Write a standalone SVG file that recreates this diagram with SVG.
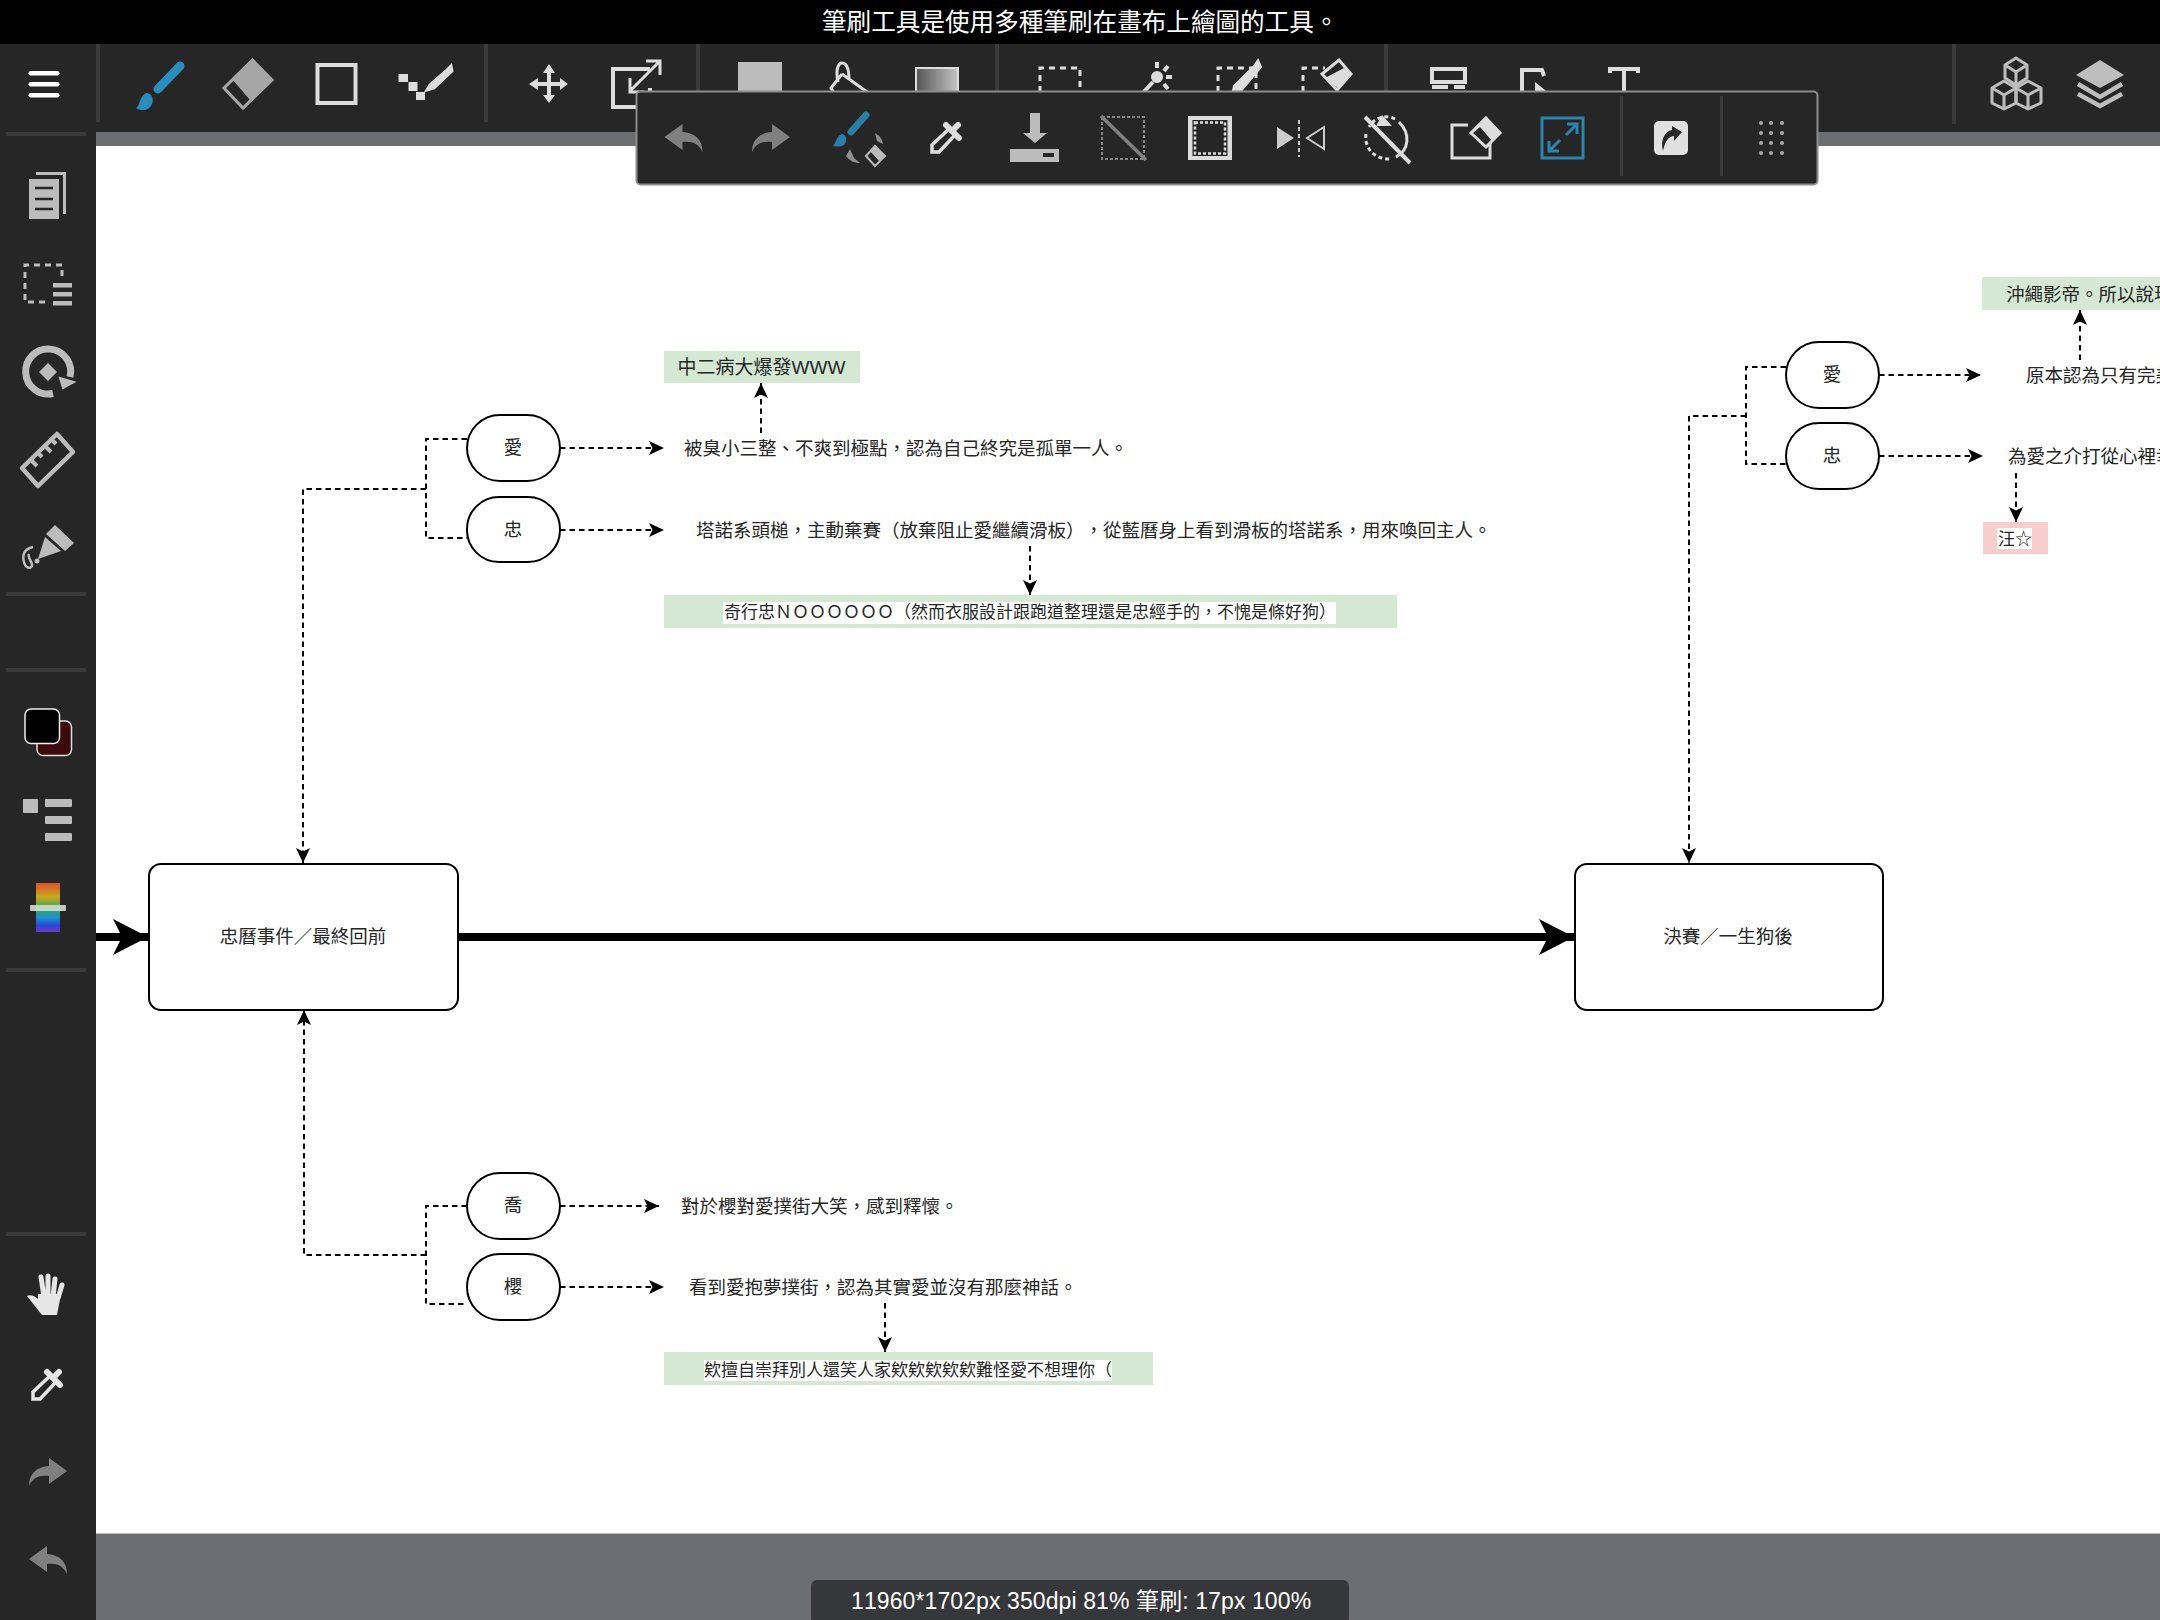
<svg xmlns="http://www.w3.org/2000/svg" width="2160" height="1620" viewBox="0 0 2160 1620" lang="zh-TW">
<style>
text{text-spacing-trim:space-all;font-kerning:none}
.t{font-family:"Liberation Sans","Noto Sans CJK TC",sans-serif;font-size:18.5px;fill:#262626}
.s{font-size:17px}
.m{text-anchor:middle}
.box{fill:#fff;stroke:#000;stroke-width:2}
.pill{fill:#fff;stroke:#000;stroke-width:2}
.green{fill:#d5e8d4}
.pink{fill:#f8cecc}
.bg{fill:#fff}
.c{fill:none;stroke:#000;stroke-width:2;stroke-dasharray:5.5 4}
.a{marker-end:url(#arr)}
.thick{fill:none;stroke:#000;stroke-width:8;marker-end:url(#big)}
.sep{fill:#3a3a3a}
.o{fill:none;stroke:#ddd;stroke-width:4}
.o3{fill:none;stroke:#ddd;stroke-width:3}
.g{fill:#bcbcbc}
.d{fill:#ddd}
.dash{fill:none;stroke:#ddd;stroke-width:3;stroke-dasharray:6 5}
.mute{fill:#808080}
.ui{font-family:"Noto Sans CJK TC",sans-serif;fill:#fff}
</style>
<defs>
<marker id="arr" markerUnits="userSpaceOnUse" markerWidth="16" markerHeight="15" refX="15" refY="7" orient="auto"><path d="M0 0L15 7L0 14L3.500 7Z" fill="#000"/></marker>
<marker id="big" markerUnits="userSpaceOnUse" markerWidth="36" markerHeight="37" refX="35" refY="18" orient="auto"><path d="M0 0L35 18L0 36L9 18Z" fill="#000"/></marker>
<linearGradient id="gr" x1="0" x2="1" y1="0" y2="0"><stop offset="0" stop-color="#555"/><stop offset="1" stop-color="#c4c4c4"/></linearGradient>
<linearGradient id="rb" x1="0" x2="0" y1="0" y2="1"><stop offset="0" stop-color="#dc4f2c"/><stop offset=".28" stop-color="#c9aa1c"/><stop offset=".5" stop-color="#3fa75a"/><stop offset=".72" stop-color="#1a8fd0"/><stop offset=".87" stop-color="#2a45d8"/><stop offset="1" stop-color="#6b3cc4"/></linearGradient>
<path id="undo" d="M0 13L18 0L18 8C30 9 38 15 38 28C34 19 27 17 18 18L18 26Z"/>
<path id="redo" d="M38 13L20 0L20 8C8 9 0 15 0 28C4 19 11 17 20 18L20 26Z"/>
<g id="drop"><path d="M1 32L1 25L19 8L25 14L8 32Z" fill="none" stroke-width="3.5" stroke="currentColor"/><path d="M15 5L28 18M22 10L27 5" fill="none" stroke-width="6" stroke="currentColor" stroke-linecap="round"/></g>
</defs>

<rect x="0" y="0" width="2160" height="1620" fill="#fff"/>

<g id="connectors">
<path class="thick" d="M458 937H1574"/>
<path class="thick" d="M96 937H148"/>
<path class="c a" d="M467 439H426V538H467M426 489H303V863"/>
<path class="c a" d="M560 448H664"/>
<path class="c a" d="M560 530H664"/>
<path class="c a" d="M761 433V383"/>
<path class="c a" d="M1030 546V595"/>
<path class="c a" d="M467 1206H426V1304H467M426 1255H304V1010"/>
<path class="c a" d="M560 1206H659"/>
<path class="c a" d="M560 1287H664"/>
<path class="c a" d="M885 1303V1352"/>
<path class="c a" d="M1786 367H1746V464H1786M1746 416H1689V863"/>
<path class="c a" d="M1879 375H1981"/>
<path class="c a" d="M1879 456H1983"/>
<path class="c a" d="M2080 360V310"/>
<path class="c a" d="M2016 473V522"/>
</g>

<g id="node-a"><rect class="box" x="149" y="864" width="309" height="146" rx="12"/><text class="t m" x="303" y="942.500">忠曆事件／最終回前</text></g>
<g id="node-b"><rect class="box" x="1575" y="864" width="308" height="146" rx="12"/><text class="t m" x="1728" y="942.500">決賽／一生狗後</text></g>

<g id="p-ai1"><rect class="pill" x="467" y="415" width="93" height="66" rx="33"/><text class="t m" x="513" y="453.500">愛</text></g>
<g id="p-zhong1"><rect class="pill" x="467" y="497" width="93" height="65" rx="32"/><text class="t m" x="513" y="535.500">忠</text></g>
<g id="p-qiao"><rect class="pill" x="467" y="1173" width="93" height="66" rx="33"/><text class="t m" x="513" y="1211.500">喬</text></g>
<g id="p-ying"><rect class="pill" x="467" y="1254" width="93" height="66" rx="33"/><text class="t m" x="513" y="1292.500">櫻</text></g>
<g id="p-ai2"><rect class="pill" x="1786" y="342" width="93" height="66" rx="33"/><text class="t m" x="1832" y="381">愛</text></g>
<g id="p-zhong2"><rect class="pill" x="1786" y="423" width="93" height="66" rx="33"/><text class="t m" x="1832" y="462">忠</text></g>

<g id="n1"><text class="t" x="684" y="454.500">被臭小三整、不爽到極點，認為自己終究是孤單一人。</text></g>
<g id="n2"><text class="t" x="696" y="536.500">塔諾系頭槌，主動棄賽（放棄阻止愛繼續滑板），從藍曆身上看到滑板的塔諾系，用來喚回主人。</text></g>
<g id="n3"><text class="t" x="681" y="1212.500">對於櫻對愛撲街大笑，感到釋懷。</text></g>
<g id="n4"><text class="t" x="689" y="1294">看到愛抱夢撲街，認為其實愛並沒有那麼神話。</text></g>
<g id="n5"><text class="t" x="2026" y="381.500">原本認為只有完美</text></g>
<g id="n6"><text class="t" x="2008" y="462.500">為愛之介打從心裡幸</text></g>

<g id="b1"><rect class="green" x="664" y="351" width="196" height="32"/><text class="t m" x="761.500" y="373.500" style="font-size:19px">中二病大爆發WWW</text></g>
<g id="b2"><rect class="green" x="664" y="595" width="733" height="33"/><rect class="bg" x="723" y="602" width="613" height="22"/><text class="t s m" x="1030" y="618">奇行忠ＮＯＯＯＯＯＯ（然而衣服設計跟跑道整理還是忠經手的，不愧是條好狗）</text></g>
<g id="b3"><rect class="green" x="664" y="1352" width="489" height="33"/><rect class="bg" x="704" y="1360" width="408" height="21"/><text class="t s" x="704" y="1376">欸擅自崇拜別人還笑人家欸欸欸欸欸難怪愛不想理你（</text></g>
<g id="b4"><rect class="green" x="1982" y="277" width="178" height="33"/><text class="t" x="2006" y="300.500">沖繩影帝。所以說現</text></g>
<g id="b5"><rect class="pink" x="1983" y="522" width="65" height="32"/><rect class="bg" x="1997" y="528" width="35" height="21"/><text class="t s" x="1998" y="544.500">汪☆</text></g>

<g id="chrome">
<rect x="0" y="0" width="2160" height="44" fill="#000"/>
<text class="ui" x="822" y="31" font-size="24.6">筆刷工具是使用多種筆刷在畫布上繪圖的工具。</text>
<rect x="96" y="132" width="2064" height="14" fill="#6b6e73"/>
<rect x="96" y="1533" width="2064" height="87" fill="#6b6e73"/>
<rect x="96" y="1533" width="2064" height="1" fill="#b8b8b8"/>
<rect x="0" y="44" width="2160" height="88" fill="#262626"/>
<rect x="0" y="44" width="96" height="1576" fill="#262626"/>
<rect class="sep" x="96" y="44" width="4" height="78"/><rect class="sep" x="484" y="44" width="4" height="78"/><rect class="sep" x="696" y="44" width="4" height="78"/><rect class="sep" x="995" y="44" width="4" height="78"/><rect class="sep" x="1384" y="44" width="4" height="78"/><rect class="sep" x="1952" y="44" width="4" height="80"/>
<rect class="sep" x="6" y="132" width="80" height="4"/><rect class="sep" x="6" y="592" width="80" height="4"/><rect class="sep" x="6" y="668" width="80" height="4"/><rect class="sep" x="6" y="968" width="80" height="4"/><rect class="sep" x="6" y="1232" width="80" height="4"/>

<rect x="28.500" y="71" width="31" height="4.500" rx="2.200" fill="#fff"/><rect x="28.500" y="82" width="31" height="4.500" rx="2.200" fill="#fff"/><rect x="28.500" y="93" width="31" height="4.500" rx="2.200" fill="#fff"/>
<path d="M180 66L158 89" stroke="#2a8dbb" stroke-width="9" stroke-linecap="round" fill="none"/>
<path d="M146 93C152 93 154 99 152 104C150 110 142 112 136 108C140 106 139 97 146 93Z" fill="#2a8dbb"/>
<path d="M252.500 60L272 80L243 108L224 88Z" fill="#262626" stroke="#a6a6a6" stroke-width="3"/>
<path d="M252.500 60L272 80L250 100L232 79Z" fill="#a6a6a6"/>
<rect class="o" x="317.500" y="65" width="38" height="38"/>
<rect class="d" x="398.500" y="74" width="9.500" height="8"/><rect class="d" x="408.500" y="82" width="9" height="9"/><rect class="d" x="416" y="92" width="9" height="8"/>
<path d="M446 71L451 66L452 71L434 88L427 90L430 85Z" fill="#ddd" stroke="#ddd" stroke-width="3"/>
<path d="M549 64L555 73L551 73V82H560V78L568 84L560 90V86H551V95H555L549 103L543 95H547V86H538V90L529 84L538 78V82H547V73H543Z" fill="#ddd"/>
<path class="o" d="M650 69H613V107H650V88"/><path class="o3" d="M630 91L659 62M646 61H660V75M630 78V92H644"/>
<rect class="g" x="738" y="62" width="44" height="32"/>
<path class="o3" d="M838 82C835 68 839 63 842 63C846 63 849 68 849 80M842 74L831 88L836 96M842 74L867 92"/>
<rect x="916" y="68" width="42" height="26" fill="url(#gr)" stroke="#ddd" stroke-width="2"/>
<path class="dash" d="M1040 92V68H1080V92"/>
<circle cx="1157" cy="77" r="6" fill="#ddd"/><path class="o" d="M1153 82L1138 98M1157 62V68M1168 66L1164 71M1172 77H1166M1168 89L1164 84"/>
<path class="dash" d="M1218 92V68H1256V92"/>
<path d="M1254 66L1258 60L1261 67L1240 92L1232 94L1234 86Z" fill="#ddd" stroke="#ddd" stroke-width="2"/>
<path class="dash" d="M1303 92V68H1325"/>
<path d="M1339 60L1351 74L1337 90L1322 74Z" fill="#262626" stroke="#ddd" stroke-width="3"/><path d="M1325 78L1338 88L1351 74L1344 68Z" fill="#ddd"/>
<rect class="o" x="1432" y="69" width="33" height="13"/><path class="o" d="M1432 87H1448M1454 87H1465"/>
<path class="o" d="M1522 95V70H1542L1544 76"/><path d="M1535 82L1550 94H1535Z" fill="#ddd"/>
<path class="o" d="M1610 73V69H1638V73M1624 69V96M1617 96H1631"/>
<g fill="none" stroke="#bdbdbd" stroke-width="3" stroke-linejoin="round"><path d="M2016 58L2027 65V78L2016 85L2005 78V65ZM2005 65L2016 72L2027 65M2016 72V85"/><path d="M2004 81L2016 88V103L2004 109L1992 103V88ZM1992 88L2004 95L2016 88M2004 95V109"/><path d="M2028 81L2041 88V103L2028 109L2016 103V88ZM2016 88L2028 95L2041 88M2028 95V109"/></g>
<path d="M2100 60L2124 75L2100 88L2076 75Z" fill="#bdbdbd"/><path d="M2078 84L2100 97L2122 84M2078 94L2100 106L2122 94" fill="none" stroke="#bdbdbd" stroke-width="4.500"/>

<path d="M36 172H66V214H63V175H36Z" class="g"/><rect class="g" x="29" y="179" width="30" height="40"/><path d="M35 188H53M35 199H53M35 209H53" stroke="#262626" stroke-width="2.500"/>
<path class="dash" d="M62 276V265H25V302H47" style="stroke:#bcbcbc"/><rect class="g" x="53" y="283" width="19" height="4.500"/><rect class="g" x="53" y="292" width="19" height="4.500"/><rect class="g" x="53" y="301" width="19" height="4.500"/>
<path d="M53 393.500A22.500 22.500 0 1 1 70 377" fill="none" stroke="#bcbcbc" stroke-width="7"/><path d="M60 378L74 382L63 388Z" fill="#bcbcbc" stroke="#bcbcbc" stroke-width="2"/><path d="M48 363L57 372L48 381L39 372Z" fill="#bcbcbc"/>
<path d="M57 434L73 452L38 486L22 468Z" fill="none" stroke="#bcbcbc" stroke-width="4.500" stroke-linejoin="round"/><path d="M31 460L37 466M38 453L42 457M45 446L51 452M52 440L56 444" stroke="#bcbcbc" stroke-width="4" fill="none"/>
<path d="M55 525L74 543L65 551L46 534Z" fill="#bcbcbc"/><path d="M45 537L61 551L38 559Z" fill="#bcbcbc"/><path d="M33 547C24 549 22 555 24 562C25 567 30 570 32 566C33 562 27 558 29 554" fill="none" stroke="#bcbcbc" stroke-width="2.500"/><circle cx="37" cy="561" r="2.500" fill="#bcbcbc"/>
<rect x="37" y="721" width="34.500" height="34.500" rx="6" fill="#3d0a0e" stroke="#ddd" stroke-width="1.500"/><rect x="25" y="709" width="34.500" height="34.500" rx="6" fill="#000" stroke="#eee" stroke-width="1.500"/>
<rect class="g" x="23" y="799" width="15" height="14" rx="1"/><rect class="g" x="45" y="799" width="27" height="8" rx="1"/><rect class="g" x="45" y="816" width="27" height="8" rx="1"/><rect class="g" x="45" y="833" width="27" height="8" rx="1"/>
<rect x="36" y="883" width="24" height="49" fill="url(#rb)"/><rect x="30" y="905" width="36" height="6" rx="1" fill="#d0dcd0" opacity=".9"/>
<g fill="none" stroke="#e6e6e6" stroke-width="5" stroke-linecap="round"><path d="M41 1277L44 1297M48 1276V1297M55 1279L53 1297M62 1285L58 1298"/></g><path d="M38 1294H61L57 1315H42L27 1296C31 1294 36 1297 38 1299Z" fill="#e6e6e6"/>
<use href="#drop" x="32" y="1367" color="#e6e6e6"/>
<use href="#redo" x="29" y="1458" class="mute"/>
<use href="#undo" x="29" y="1546" class="mute"/>
</g>

<g id="float">
<rect x="636.500" y="91.500" width="1181" height="93" rx="4" fill="#262626" stroke="#8c8c8c" stroke-width="2"/>
<rect class="sep" x="1620" y="96" width="3" height="80"/><rect class="sep" x="1720" y="96" width="3" height="80"/>
<use href="#undo" x="664.500" y="124" class="mute"/>
<use href="#redo" x="752" y="124" class="mute"/>
<path d="M866 115L851 132" stroke="#2a7ea6" stroke-width="7" stroke-linecap="round" fill="none"/><path d="M842 134C847 135 847 141 845 144C842 147 837 147 833 146C836 143 836 136 842 134Z" fill="#2a7ea6"/>
<path d="M875 133C880 136 882 139 883 144L877 141Z" fill="#909090"/><path d="M850 149L846 156C850 161 854 163 860 163L854 158Z" fill="#909090"/>
<path d="M875 146L885 156L875 166L866 156Z" fill="#262626" stroke="#bbb" stroke-width="2"/><path d="M875 146L885 156L879 161L870 151Z" fill="#bbb"/>
<use href="#drop" x="931" y="120" color="#ddd"/>
<path d="M1030 113H1040V133H1047L1035 143L1023 133H1030Z" class="g"/><rect class="g" x="1010" y="149" width="49" height="13"/><rect x="1043" y="153" width="11" height="4" fill="#262626"/>
<rect x="1102" y="117" width="42" height="42" fill="none" stroke="#888" stroke-width="2" stroke-dasharray="3 2"/><path d="M1101 116L1146 160" stroke="#808080" stroke-width="3.500" fill="none"/>
<rect class="d" x="1188" y="116" width="44" height="44"/><rect x="1192.500" y="120" width="35" height="36" fill="#262626"/><rect x="1195" y="122.500" width="30" height="31" fill="none" stroke="#ddd" stroke-width="2.500" stroke-dasharray="3 2"/>
<path d="M1277 127L1294 138L1277 149Z" fill="#ccc"/><path d="M1324 127L1307 138L1324 149Z" fill="none" stroke="#ccc" stroke-width="2"/><path d="M1299 120V157" stroke="#ccc" stroke-width="2" stroke-dasharray="4 3" fill="none"/>
<path class="o3" d="M1399 122C1411 134 1409 150 1396 157"/><path class="o3" d="M1395 119C1385 114 1374 118 1369 127M1366 134C1364 147 1373 159 1390 159" stroke-dasharray="4 3"/><path d="M1382 115L1392 126H1376Z" fill="#ddd"/><path d="M1365 117L1410 163" stroke="#ddd" stroke-width="4" fill="none"/>
<path class="o3" d="M1468 125H1452V158H1490V140"/><path d="M1486 118L1500 133L1486 147L1471 133Z" fill="#262626" stroke="#ddd" stroke-width="3"/><path d="M1473 133L1486 118L1499 133L1492 141L1480 127Z" fill="#ddd"/>
<rect x="1542" y="118" width="41" height="40" fill="none" stroke="#2b84ad" stroke-width="3"/><path d="M1550 150L1560 140M1576 125L1566 135" stroke="#2b84ad" stroke-width="3" fill="none"/><path d="M1549 141V151H1559M1567 124H1577V134" fill="none" stroke="#2b84ad" stroke-width="3"/>
<rect x="1654" y="121" width="34" height="34" rx="5" fill="#e0e0e0"/><path d="M1663 151C1660 140 1665 131 1672 130V126L1682 132L1674 141V136C1669 136 1665 141 1663 151Z" fill="#262626"/>
<g fill="#aaa"><circle cx="1761" cy="123" r="2"/><circle cx="1771" cy="123" r="2"/><circle cx="1782" cy="123" r="2"/><circle cx="1761" cy="133" r="2"/><circle cx="1771" cy="133" r="2"/><circle cx="1782" cy="133" r="2"/><circle cx="1761" cy="143" r="2"/><circle cx="1771" cy="143" r="2"/><circle cx="1782" cy="143" r="2"/><circle cx="1761" cy="153" r="2"/><circle cx="1771" cy="153" r="2"/><circle cx="1782" cy="153" r="2"/></g>
</g>

<g id="status">
<rect x="811" y="1580" width="538" height="44" rx="6" fill="#36373a"/>
<text x="851" y="1609" font-family="'Liberation Sans','Noto Sans CJK TC',sans-serif" font-size="23" letter-spacing=".1" fill="#fff">11960*1702px 350dpi 81% 筆刷: 17px 100%</text>
</g>
</svg>
